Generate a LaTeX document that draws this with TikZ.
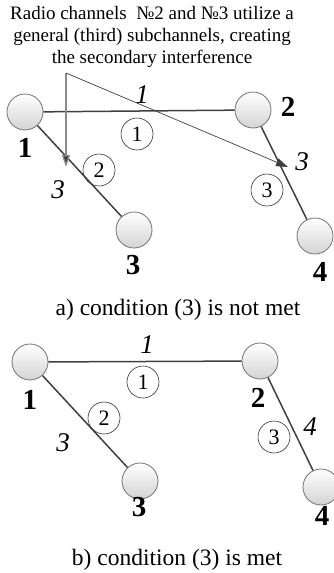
\documentclass[tikz,border=0pt]{standalone}
\usepackage{fontspec}
\setmainfont{Liberation Serif}
\usetikzlibrary{arrows.meta}
\tikzset{
  station/.style={circle, minimum size=36pt, inner sep=0pt, draw=black!55, line width=0.8pt, top color=white, bottom color=black!17},
  link/.style={draw=black!75, line width=1.5pt},
  chan/.style={circle, draw=black!80, line width=0.6pt, minimum size=32pt, inner sep=0pt, font=\fontsize{22}{22}\selectfont},
  blabel/.style={font=\fontsize{29}{29}\selectfont\bfseries, inner sep=0pt},
  ilabel/.style={font=\fontsize{27}{27}\selectfont\itshape, inner sep=0pt},
  caption/.style={font=\fontsize{23.5}{23.5}\selectfont, inner sep=0pt}
}
\begin{document}
\begin{tikzpicture}[x=1pt,y=-1pt]
\useasboundingbox (0,0) rectangle (334,573);
% title
\node[align=center, font=\fontsize{19}{22}\selectfont, inner sep=0pt] (title) at (152,37)
  {Radio channels\ \ №2 and №3 utilize a\\general (third) subchannels, creating\\the secondary interference};
% part a
\node[station] (a1) at (25,112) {};
\node[station] (a2) at (253,110) {};
\node[station] (a3) at (134,230) {};
\node[station] (a4) at (315,236) {};
\draw[link] (a1) -- (a2);
\draw[link] (a1) -- (a3);
\draw[link] (a2) -- (a4);
\coordinate (src) at (66,73);
\coordinate (tipA) at (66,167);
\coordinate (tipB) at (288,167);
\draw[draw=black!45, line width=1.3pt, -{Triangle[length=12pt,width=8pt,fill=black!75]}] (src) -- (tipA);
\draw[draw=black!75, line width=0.7pt, -{Triangle[length=12pt,width=8pt]}] (src) -- (tipB);
\node[blabel] (la1) at (25,148) {1};
\node[blabel] (la2) at (288,107) {2};
\node[blabel] (la3) at (133,265) {3};
\node[blabel] (la4) at (320,272) {4};
\node[ilabel] (ia1) at (142,95) {1};
\node[ilabel] (ia3r) at (302,162) {3};
\node[ilabel] (ia3l) at (58,190) {3};
\node[chan] (ca1) at (137,134) {1};
\node[chan] (ca2) at (99,170) {2};
\node[chan] (ca3) at (267,190) {3};
\node[caption] (capa) at (178,310) {a) condition (3) is not met};
% part b
\node[station] (b1) at (30,362) {};
\node[station] (b2) at (260,361) {};
\node[station] (b3) at (140,481) {};
\node[station] (b4) at (321,487) {};
\draw[link] (b1) -- (b2);
\draw[link] (b1) -- (b3);
\draw[link] (b2) -- (b4);
\node[blabel] (lb1) at (30,400) {1};
\node[blabel] (lb2) at (258,398) {2};
\node[blabel] (lb3) at (139,507) {3};
\node[blabel] (lb4) at (322,516) {4};
\node[ilabel] (ib1) at (147,345) {1};
\node[ilabel] (ib3) at (63,443) {3};
\node[ilabel] (ib4) at (310,427) {4};
\node[chan] (cb1) at (143,382) {1};
\node[chan] (cb2) at (104,418) {2};
\node[chan] (cb3) at (274,437) {3};
\node[caption] (capb) at (177,560) {b) condition (3) is met};
\end{tikzpicture}
\end{document}
